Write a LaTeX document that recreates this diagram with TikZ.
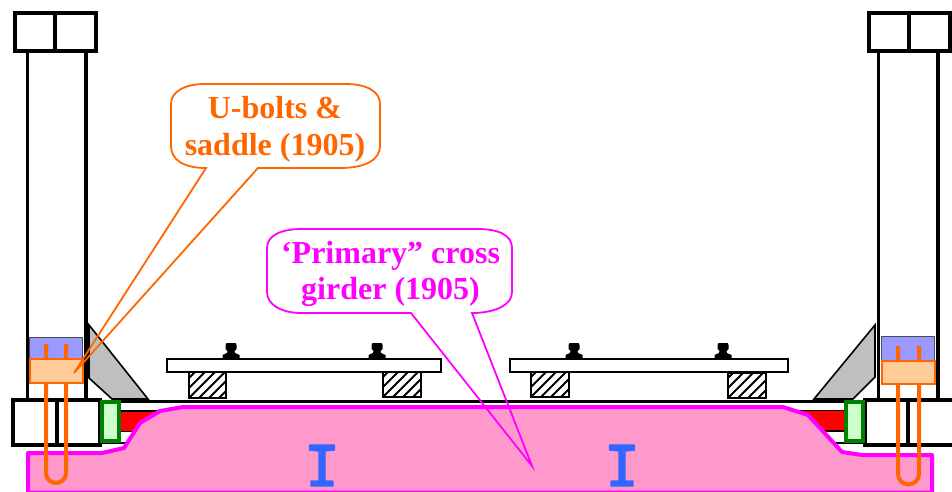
\documentclass[tikz,border=0pt]{standalone}
\usepackage{fontspec}
\setmainfont{Liberation Serif}
\definecolor{pinkfill}{HTML}{FF99CC}
\definecolor{mag}{HTML}{FF00FF}
\definecolor{orng}{HTML}{FF6600}
\definecolor{peach}{HTML}{FFCC99}
\definecolor{lav}{HTML}{9999FF}
\definecolor{grn}{HTML}{008000}
\definecolor{lgrn}{HTML}{CCFFCC}
\definecolor{ibeam}{HTML}{3366FF}
\tikzset{
  x=1pt,y=-1pt,
  heavy/.style={draw=black,line width=3.8pt,fill=white},
  gusset/.style={draw=black,line width=1.6pt,fill=black!25},
  blueblock/.style={draw=black!70,line width=1pt,fill=lav},
  saddle/.style={draw=orng,line width=2pt,fill=peach},
  ubolt/.style={draw=orng,line width=4pt},
  packer/.style={draw=grn,line width=4pt,fill=lgrn},
  redbar/.style={draw=black,line width=1.6pt,fill=red},
  plate/.style={draw=black,line width=2pt,fill=white},
  sleeper/.style={draw=black,line width=1.4pt},
  hatchline/.style={draw=black,line width=2pt},
  railsec/.style={fill=black},
  girder/.style={draw=mag,line width=4pt,fill=pinkfill,line join=round},
  beam/.style={fill=ibeam,draw=ibeam,line width=1.4pt,line join=round},
  callO/.style={draw=orng,line width=1.8pt},
  callM/.style={draw=mag,line width=1.8pt},
  calltext/.style={font=\bfseries\fontsize{32}{36.5}\selectfont,align=center,inner sep=0pt},
}
\newcommand{\railat}[2]{%
  \fill[railsec] (#1-4.5,#2) -- (#1+4.5,#2) -- (#1+5.5,#2+2) -- (#1+5.5,#2+6) -- (#1+3.5,#2+8) -- (#1+4,#2+10) -- (#1+8.5,#2+12) -- (#1+8.5,#2+16)
    -- (#1-8.5,#2+16) -- (#1-8.5,#2+12) -- (#1-4,#2+10) -- (#1-3.5,#2+8) -- (#1-5.5,#2+6) -- (#1-5.5,#2+2) -- cycle;}
\newcommand{\sleeperbox}[4]{%
  \begin{scope}
    \clip (#1,#2) rectangle (#3,#4);
    \foreach \k in {-40,-30,...,50} {\draw[hatchline] (#1+\k,#4) -- (#1+\k+30,#4-30);}
  \end{scope}
  \draw[sleeper] (#1,#2) rectangle (#3,#4);}
\newcommand{\ibeamat}[1]{%
  \draw[beam] (#1-12.5,445) -- (#1+12.5,445) -- (#1+12.5,450) -- (#1+3,451) -- (#1+3,481) -- (#1+11,481) -- (#1+11,486)
    -- (#1-11,486) -- (#1-11,481) -- (#1-3,481) -- (#1-3,451) -- (#1-12.5,450) -- cycle;}
\begin{document}
\begin{tikzpicture}
\useasboundingbox (0,0) rectangle (952,492);
\begin{scope}
\clip (0,0) rectangle (952,492);
% left column
\draw[heavy] (15,13) rectangle (96,51);
\draw[heavy] (55,13) -- (55,51);
\draw[heavy] (27.5,51) -- (27.5,400);
\draw[heavy] (86,51) -- (86,400);
% right column
\draw[heavy] (869,13) rectangle (950,51);
\draw[heavy] (909,13) -- (909,51);
\draw[heavy] (878.5,51) -- (878.5,400);
\draw[heavy] (938,51) -- (938,400);
% gussets
\draw[gusset] (89,325) -- (148,399) -- (112,399) -- (89,378) -- cycle;
\draw[gusset] (875,325) -- (814,399) -- (853,399) -- (875,377) -- cycle;
% base blocks
\draw[heavy] (13,400) rectangle (100,445);
\draw[heavy] (57,400) -- (57,445);
\draw[heavy] (865,400) rectangle (958,445);
\draw[heavy] (908,400) -- (908,445);
% deck line and lower lines
\draw[draw=black,line width=3.6pt] (100,401.5) -- (865,401.5);
\draw[draw=black,line width=2.6pt] (100,443) -- (128,443);
\draw[draw=black,line width=2.6pt] (833,443) -- (865,443);
% red bars
\draw[redbar] (120,411) rectangle (175,431.5);
\draw[redbar] (790,410.5) rectangle (845,431);
% girder
\draw[girder] (28,453) -- (102,453) -- (124,448) -- (140,423) -- (160,411) -- (183,407) -- (783,407) -- (808,415) -- (842,452) -- (862,455) -- (932,455) -- (932,492.5) -- (28,492.5) -- cycle;
\ibeamat{322}
\ibeamat{622}
% packers
\draw[packer] (101.5,402) rectangle (119,441);
\draw[packer] (846,402) rectangle (863,441);
% blue blocks
\draw[blueblock] (29,337) rectangle (82,359);
\draw[blueblock] (881,336) rectangle (934,361);
% U-bolts
\draw[ubolt] (46,344) -- (46,473) arc[start angle=180,end angle=0,radius=10] -- (66,344);
\draw[ubolt] (898,346) -- (898,474) arc[start angle=180,end angle=0,radius=10.5] -- (919,346);
% saddles
\draw[saddle] (29.5,359) rectangle (83,383);
\draw[saddle] (882,361) rectangle (935,384);
% sleepers
\sleeperbox{189}{372}{226}{398}
\sleeperbox{383}{371}{421}{397}
\sleeperbox{531}{372}{569}{397}
\sleeperbox{728}{373}{766}{398}
% plates
\draw[plate] (167,359) rectangle (441,372);
\draw[plate] (510,359) rectangle (788,372);
% rails
\railat{231}{343}
\railat{377}{343}
\railat{574}{343}
\railat{723}{343}
% callouts
\draw[callO,line join=miter] (206,168) -- (74,373) -- (258,168) -- (340,168)
  .. controls (365,168) and (380,160) .. (380,146) -- (380,104)
  .. controls (380,92) and (368,84) .. (345,84) -- (205,84)
  .. controls (184,84) and (171,92) .. (171,104) -- (171,146)
  .. controls (171,160) and (184,168) .. (206,168) -- cycle;
\draw[callM,line join=miter] (411,313) -- (532,466) -- (472,313) -- (475,313)
  .. controls (498,312) and (512,304) .. (512,292) -- (512,248)
  .. controls (512,236) and (500,229) .. (478,229) -- (302,229)
  .. controls (280,229) and (267,236) .. (267,248) -- (267,292)
  .. controls (267,304) and (280,313) .. (302,313) -- cycle;
\end{scope}
\node[calltext,text=orng] (ubolts) at (275,129.5) {U-bolts \&\\saddle (1905)};
\node[calltext,text=mag] (primary) at (390.5,274) {‘Primary” cross\\girder (1905)};
\end{tikzpicture}
\end{document}
